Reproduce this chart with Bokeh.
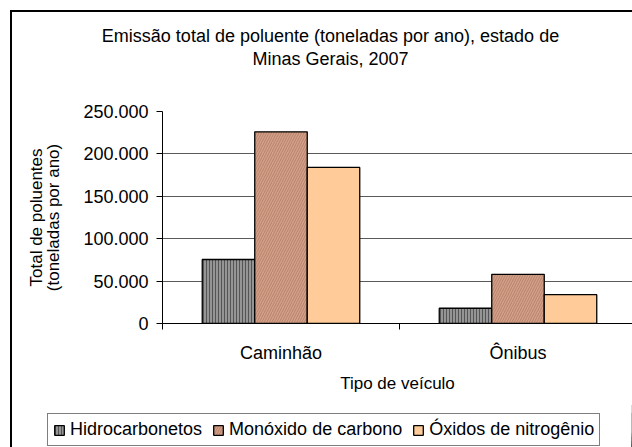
from bokeh.plotting import figure
from bokeh.layouts import column
from bokeh.models import (Range1d, FixedTicker, Legend, LegendItem, Label,
                          LinearAxis, ColumnDataSource)
from bokeh.embed import file_html
from bokeh.resources import INLINE

# ---- data ----
categories = ["Caminhão", "Ônibus"]
series_names = ["Hidrocarbonetos", "Monóxido de carbono", "Óxidos de nitrogênio"]
hidrocarbonetos = [75500, 18000]
monoxido_carbono = [226000, 58000]
oxidos_nitrogenio = [184000, 34000]
y_ticks = [0, 50000, 100000, 150000, 200000, 250000]
y_tick_labels = ["0", "50.000", "100.000", "150.000", "200.000", "250.000"]
title_lines = ["Emissão total de poluente (toneladas por ano), estado de",
               "Minas Gerais, 2007"]

FONT = "Liberation Sans"
FS = "18px"
W = 620

fills = ["#959595", "#d3a089", "#ffcc99"]
hatches = ["vertical_line", "right_diagonal_line", None]
hatch_colors = ["#3a3a3a", "#a0674f", None]
hatch_scales = [3, 5, None]
hatch_alphas = [0.7, 0.55, None]


def bar_style(k):
    kw = dict(fill_color=fills[k], line_color="black", line_width=1.3)
    if hatches[k]:
        kw.update(hatch_pattern=hatches[k], hatch_color=hatch_colors[k],
                  hatch_scale=hatch_scales[k], hatch_weight=1,
                  hatch_alpha=hatch_alphas[k])
    return kw


def blank(fig):
    fig.outline_line_color = None
    fig.grid.visible = False
    fig.border_fill_color = "white"
    fig.background_fill_color = "white"
    fig.frame_align = False


bar_w = 52.5 / 237
series = [hidrocarbonetos, monoxido_carbono, oxidos_nitrogenio]


def series_source(k):
    xs = [i + 0.5 + (k - 1) * bar_w for i in range(len(categories))]
    return ColumnDataSource(dict(x=xs, top=series[k]))


# ---- title strip ----
TH = 70
p0 = figure(width=W, height=TH, output_backend="svg", toolbar_location=None,
            x_axis_location=None, y_axis_location=None,
            x_range=Range1d(0, 1), y_range=Range1d(0, 1),
            min_border=0, min_border_left=0, min_border_right=0,
            min_border_top=0, min_border_bottom=0)
blank(p0)
for txt, ys in zip(title_lines, [TH - 23, TH - 46]):
    p0.add_layout(Label(x=318, y=ys, x_units="screen", y_units="screen", text=txt,
                        text_align="center", text_baseline="middle",
                        text_font=FONT, text_font_size=FS, text_color="black"))

# ---- main chart ----
PH = 318
FL, FT, FB = 150, 111 - 12 - TH, 323 - 12 - TH
p = figure(width=W, height=PH, output_backend="svg", toolbar_location=None,
           x_range=Range1d(0, (W - FL) / 237), y_range=Range1d(0, 250000),
           min_border_left=FL, min_border_right=0, min_border_top=FT,
           min_border_bottom=PH - FB)
p.frame_align = False
p.outline_line_color = None
p.background_fill_color = "white"
p.border_fill_color = "white"

for k in range(len(series)):
    p.vbar(x="x", top="top", width=bar_w, bottom=0, source=series_source(k), **bar_style(k))

p.yaxis.ticker = FixedTicker(ticks=y_ticks)
p.yaxis.major_label_overrides = {t: l for t, l in zip(y_ticks, y_tick_labels)}
p.yaxis.minor_tick_line_color = None
p.yaxis.minor_tick_out = 0
p.yaxis.major_tick_out = 6
p.yaxis.major_tick_in = 0
p.yaxis.axis_line_color = "black"
p.yaxis.major_tick_line_color = "black"
p.yaxis.major_label_text_font = FONT
p.yaxis.major_label_text_font_size = FS
p.yaxis.major_label_text_color = "black"
p.yaxis.major_label_standoff = 8
p.yaxis.axis_label = "(toneladas por ano)"
p.yaxis.axis_label_text_font = FONT
p.yaxis.axis_label_text_font_size = "17px"
p.yaxis.axis_label_text_font_style = "normal"
p.yaxis.axis_label_text_color = "black"
p.yaxis.axis_label_standoff = 17

ax2 = LinearAxis(ticker=FixedTicker(ticks=[]), axis_line_color=None,
                 major_tick_line_color=None, minor_tick_line_color=None,
                 major_tick_out=0, minor_tick_out=0, major_label_standoff=0,
                 axis_label="Total de poluentes", axis_label_text_font=FONT,
                 axis_label_text_font_size="17px", axis_label_text_font_style="normal",
                 axis_label_text_color="black", axis_label_standoff=-4)
p.add_layout(ax2, "left")

p.xaxis.ticker = FixedTicker(ticks=[i + 0.5 for i in range(len(categories))],
                             minor_ticks=[float(i) for i in range(len(categories) + 1)])
p.xaxis.major_label_overrides = {i + 0.5: c for i, c in enumerate(categories)}
p.xaxis.major_tick_out = 0
p.xaxis.major_tick_in = 0
p.xaxis.minor_tick_out = 6
p.xaxis.minor_tick_in = 0
p.xaxis.minor_tick_line_color = "black"
p.xaxis.axis_line_color = "black"
p.xaxis.major_label_text_font = FONT
p.xaxis.major_label_text_font_size = FS
p.xaxis.major_label_text_color = "black"
p.xaxis.major_label_standoff = 13
p.xaxis.axis_label = "Tipo de veículo"
p.xaxis.axis_label_text_font = FONT
p.xaxis.axis_label_text_font_size = "17px"
p.xaxis.axis_label_text_font_style = "normal"
p.xaxis.axis_label_text_color = "black"
p.xaxis.axis_label_standoff = 8

p.xgrid.grid_line_color = None
p.ygrid.ticker = FixedTicker(ticks=y_ticks)
p.ygrid.grid_line_color = "#5a5a5a"
p.ygrid.grid_line_width = 1

# ---- legend strip (same series, drawn outside its visible x range) ----
LH = 447 - 12 - TH - PH
p2 = figure(width=W, height=LH, output_backend="svg", toolbar_location=None,
            x_axis_location=None, y_axis_location=None,
            x_range=Range1d(-20, -19), y_range=Range1d(0, 250000),
            min_border=0, min_border_left=0, min_border_right=0,
            min_border_top=0, min_border_bottom=0)
blank(p2)
leg_renderers = [p2.vbar(x="x", top="top", width=bar_w, bottom=0,
                         source=series_source(k), **bar_style(k))
                 for k in range(len(series_names))]
items = [LegendItem(label=n, renderers=[r]) for n, r in zip(series_names, leg_renderers)]
leg = Legend(items=items, orientation="horizontal", location=(35, LH - 46),
             label_text_font=FONT, label_text_font_size=FS,
             label_text_color="black", glyph_width=12, glyph_height=12,
             label_standoff=5, spacing=10, padding=5, margin=0,
             border_line_color="black", border_line_width=1,
             background_fill_color="white", background_fill_alpha=1)
p2.add_layout(leg, "center")

layout = column(p0, p, p2, spacing=0, margin=(10, 0, 0, 10),
                styles={"border-left": "2px solid black", "border-top": "2px solid black"})

open("out.html", "w").write(file_html(layout, INLINE))
